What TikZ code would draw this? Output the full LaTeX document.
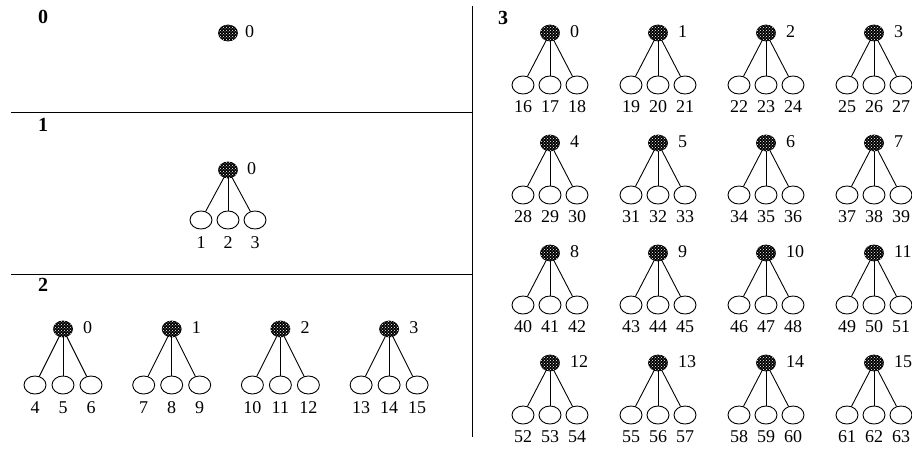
\documentclass[tikz,border=0pt]{standalone}
\usepackage{fontspec}
\setmainfont{Liberation Serif}
\usetikzlibrary{shapes.geometric,patterns}
\tikzset{
 rootnode/.style={ellipse,draw,line width=0.8pt,fill=black,minimum width=19pt,minimum height=16pt,inner sep=0pt,postaction={pattern=crosshatch dots,pattern color=white}},
 leaf/.style={ellipse,draw,line width=0.9pt,minimum width=22pt,minimum height=18pt,inner sep=0pt},
 num/.style={font=\fontsize{18}{20}\selectfont,inner sep=0pt},
 sect/.style={font=\fontsize{20}{22}\selectfont\bfseries,inner sep=0pt},
 edge/.style={line width=0.9pt},
 rule/.style={line width=1pt}
}
\begin{document}
\begin{tikzpicture}[x=1pt,y=-1pt]
\useasboundingbox (0,0) rectangle (912,449);
% rules
\coordinate (vt) at (472,6);
\coordinate (vb) at (472,437);
\coordinate (h1l) at (11,113);
\coordinate (h1r) at (472,113);
\coordinate (h2l) at (11,274);
\coordinate (h2r) at (472,274);
\draw[rule] (vt) -- (vb);
\draw[rule] (h1l) -- (h1r);
\draw[rule] (h2l) -- (h2r);
% section labels
\node[sect] (s0) at (43,17) {0};
\node[sect] (s1) at (43,125) {1};
\node[sect] (s2) at (43,285) {2};
\node[sect] (s3) at (503,18) {3};
% level 0
\node[rootnode] (r0) at (228,33) {};
\node[num,anchor=west] (l0) at (245,32) {0};
% level 1
\node[rootnode] (r1) at (228,170) {};
\node[num,anchor=west] (l1) at (247,169) {0};
\foreach \j in {0,1,2} {
  \pgfmathtruncatemacro\lab{1+\j}
  \pgfmathsetmacro\cx{228+27*(\j-1)}
  \node[leaf] (c1-\j) at (\cx,220) {};
  \node[num] (n1-\j) at (\cx,243) {\lab};
  \draw[edge] (r1) -- (c1-\j);
}
% level 2
\foreach \k in {0,1,2,3} {
  \pgfmathsetmacro\xx{63+108.7*\k}
  \node[rootnode] (r2-\k) at (\xx,329) {};
  \node[num,anchor=west] (l2-\k) at (\xx+20,328) {\k};
  \foreach \j in {0,1,2} {
    \pgfmathtruncatemacro\lab{4+3*\k+\j}
    \pgfmathsetmacro\cx{\xx+28*(\j-1)}
    \node[leaf] (c2-\k-\j) at (\cx,385) {};
    \node[num] (n2-\k-\j) at (\cx,408) {\lab};
    \draw[edge] (r2-\k) -- (c2-\k-\j);
  }
}
% level 3
\foreach \k in {0,...,15} {
  \pgfmathtruncatemacro\row{int(\k/4)}
  \pgfmathtruncatemacro\col{mod(\k,4)}
  \pgfmathsetmacro\xx{550+108*\col}
  \pgfmathsetmacro\yy{33+110*\row}
  \node[rootnode] (r3-\k) at (\xx,\yy) {};
  \node[num,anchor=west] (l3-\k) at (\xx+20,\yy-1) {\k};
  \foreach \j in {0,1,2} {
    \pgfmathtruncatemacro\lab{16+3*\k+\j}
    \pgfmathsetmacro\cx{\xx+27*(\j-1)}
    \node[leaf] (c3-\k-\j) at (\cx,\yy+52) {};
    \node[num] (n3-\k-\j) at (\cx,\yy+74) {\lab};
    \draw[edge] (r3-\k) -- (c3-\k-\j);
  }
}
\end{tikzpicture}
\end{document}
